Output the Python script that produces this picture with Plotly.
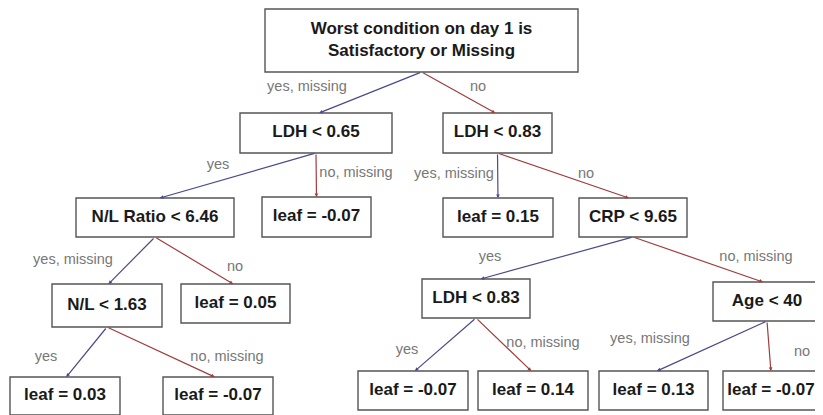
import plotly.graph_objects as go

# tree content
node_labels = [
    "Worst condition on day 1 is<br>Satisfactory or Missing",
    "LDH < 0.65", "LDH < 0.83",
    "N/L Ratio < 6.46", "leaf = -0.07", "leaf = 0.15", "CRP < 9.65",
    "N/L < 1.63", "leaf = 0.05", "LDH < 0.83", "Age < 40",
    "leaf = 0.03", "leaf = -0.07", "leaf = -0.07", "leaf = 0.14",
    "leaf = 0.13", "leaf = -0.07",
]
parents = [None, 0, 0, 1, 1, 2, 2, 3, 3, 6, 6, 7, 7, 9, 9, 10, 10]
edge_labels = [
    None, "yes, missing", "no",
    "yes", "no, missing", "yes, missing", "no",
    "yes, missing", "no", "yes", "no, missing",
    "yes", "no, missing", "yes", "no, missing",
    "yes, missing", "no",
]

# layout of the boxes (page pixel space, y down)
node_cx = [421.5, 316, 497.5, 155, 316.5, 498, 633, 107, 235.5, 476, 767,
           65, 218, 413, 533, 653.5, 771]
node_cy = [40.5, 133, 133, 217.5, 217, 217.5, 217.5, 305.5, 303.5, 298.5, 301.5,
           396, 396, 390.5, 390.5, 390.5, 390.5]
node_w = [313, 152, 109, 158, 109, 110, 108, 110, 109, 108, 108,
          110, 110, 110, 110, 109, 96]
node_h = [63, 40, 40, 39, 40, 39, 39, 43, 39, 39, 39,
          38, 38, 39, 39, 39, 39]
label_x = [None, 307, 478, 218, 356, 454, 586, 73, 235, 490, 756,
           46, 227, 407, 543, 650, 802]
label_y = [None, 87, 87, 165, 173, 174, 174, 260, 267, 257, 257,
           357, 357, 350, 343, 339, 352]

YES_COLOR = "#4a4a8c"
NO_COLOR = "#a03c3c"
PAGE_W, PAGE_H, BODY_MARGIN = 823, 415, 8

fig = go.Figure()

shapes = []
for cx, cy, w, h in zip(node_cx, node_cy, node_w, node_h):
    shapes.append(dict(
        type="rect", xref="x", yref="y",
        x0=cx - w / 2, x1=cx + w / 2, y0=cy - h / 2, y1=cy + h / 2,
        line=dict(color="#555555", width=1.4), fillcolor="white", layer="below",
    ))

annotations = []
for i, p in enumerate(parents):
    if p is None:
        continue
    x0 = node_cx[p]
    y0 = node_cy[p] + node_h[p] / 2
    off = max(-5, min(5, (x0 - node_cx[i]) * 0.03))
    x1 = node_cx[i] + off
    y1 = node_cy[i] - node_h[i] / 2
    color = YES_COLOR if edge_labels[i].startswith("yes") else NO_COLOR
    annotations.append(dict(
        x=x1, y=y1, ax=x0, ay=y0, xref="x", yref="y", axref="x", ayref="y",
        text="", showarrow=True, arrowhead=2, arrowsize=0.6, arrowwidth=1.2,
        arrowcolor=color, standoff=0,
    ))

# node texts
fig.add_trace(go.Scatter(
    x=node_cx, y=node_cy, mode="text", text=[f"<b>{t}</b>" for t in node_labels],
    textposition="middle center",
    textfont=dict(family="Liberation Sans, Arial", size=17, color="#1a1a1a"),
    hoverinfo="skip", showlegend=False,
))

# edge texts
fig.add_trace(go.Scatter(
    x=label_x[1:], y=label_y[1:], mode="text", text=edge_labels[1:],
    textposition="middle center",
    textfont=dict(family="Liberation Sans, Arial", size=14.5, color="#777777"),
    hoverinfo="skip", showlegend=False,
))

# the page body has an 8px margin, so the figure covers page pixels 8..823
fig.update_layout(
    width=PAGE_W - BODY_MARGIN, height=PAGE_H - BODY_MARGIN,
    margin=dict(l=0, r=0, t=0, b=0),
    paper_bgcolor="white", plot_bgcolor="white",
    xaxis=dict(range=[BODY_MARGIN, PAGE_W], visible=False, fixedrange=True),
    yaxis=dict(range=[PAGE_H, BODY_MARGIN], visible=False, fixedrange=True),
    shapes=shapes, annotations=annotations,
    showlegend=False,
)

fig.write_html("out.html")
